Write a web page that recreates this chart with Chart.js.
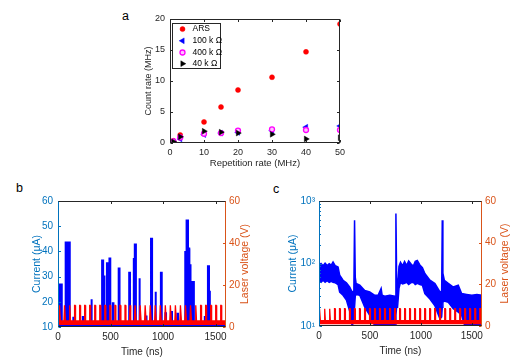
<!DOCTYPE html>
<html><head><meta charset="utf-8">
<script src="https://cdn.jsdelivr.net/npm/chart.js"></script>
<style>
html,body{margin:0;padding:0;background:#fff;width:512px;height:357px;overflow:hidden;position:relative}
canvas{position:absolute}
.lbl{position:absolute;font-family:"Liberation Sans",Arial,sans-serif;color:#000;line-height:1;font-size:12.5px}
</style></head><body>
<div class="lbl" style="left:122px;top:10.4px">a</div>
<div class="lbl" style="left:16px;top:182.1px">b</div>
<div class="lbl" style="left:273px;top:182.7px">c</div>
<canvas id="ca" width="240" height="175" style="left:120px;top:0"></canvas>
<canvas id="cb" width="256" height="180" style="left:0;top:180px"></canvas>
<canvas id="cc" width="256" height="180" style="left:256px;top:180px"></canvas>
<script>
// ---------------- DATA ----------------
// Panel a
const repRate   = [1, 3, 10, 15, 20, 30, 40, 50];
const countARS  = [0.35, 1.3, 3.4, 5.8, 8.55, 10.6, 14.7, 19.2];
const count100k = [0.2, 0.65, 1.35, 1.6, 1.7, 2.0, 2.55, 2.75];
const count400k = [0.25, 0.9, 1.5, 1.6, 2.0, 2.2, 2.1, 2.1];
const count40k  = [0.2, 1.0, 1.9, 1.75, 1.6, 1.4, 0.65, 0.85];
const seriesNamesA = ['ARS', '100 k \u03A9', '400 k \u03A9', '40 k \u03A9'];
const xTicksA = [0, 10, 20, 30, 40, 50];
const yTicksA = [0, 5, 10, 15, 20];

// Panel b : current spikes (start ns, end ns, height uA) over a ~11.8 uA baseline
const spikeStartB  = [16, 73, 146, 236, 315, 420, 430, 466, 490, 522, 578, 678, 722, 732, 772, 838, 886, 926, 980, 1023, 1080, 1137, 1212, 1226, 1240, 1252, 1268, 1398, 1428, 1438];
const spikeEndB    = [36, 112, 153, 242, 323, 430, 442, 474, 498, 528, 586, 686, 730, 742, 780, 843, 896, 933, 988, 1029, 1086, 1143, 1222, 1238, 1250, 1262, 1294, 1403, 1438, 1446];
const spikeHeightB = [26.9, 43.5, 13.7, 14, 21, 36.4, 30, 35.3, 37.2, 19.4, 33.2, 31.5, 37, 42.7, 29.3, 14.2, 45, 24, 31.5, 15.5, 16, 15.3, 39.8, 52.3, 41.2, 34.5, 27.9, 14, 34.1, 24];
const currentBaseB = 11.8;
// Panel b : laser pulses (ns), peak / baseline band (V)
const laserTimesB = [16, 64, 112, 160, 208, 256, 304, 352, 400, 448, 496, 544, 592, 640, 688, 736, 784, 832, 880, 928, 976, 1024, 1072, 1120, 1168, 1216, 1264, 1312, 1360, 1408, 1456, 1504, 1552];
const laserPeakB = 10.3, laserBaseHiB = 2.9, laserBaseLoB = 0.9;

// Panel c : current band (ns, upper uA, lower uA)
const timeC = [0, 20, 40, 60, 80, 100, 120, 138, 160, 187, 203, 236, 269, 302, 325, 342, 349, 356, 364, 400, 449, 498, 548, 580, 610, 620, 646, 695, 748, 755, 762, 771, 785, 800, 820, 840, 860, 880, 900, 925, 945, 965, 990, 1015, 1039, 1089, 1138, 1187, 1204, 1210, 1216, 1230, 1269, 1318, 1367, 1400, 1449, 1500, 1550, 1600];
const currentHiC = [95, 100, 92, 101, 93, 99, 94, 106, 92, 88, 65, 54, 49, 42, 35, 36, 493, 60, 48, 45, 37, 35, 31, 31, 40, 31, 30, 31, 30, 630, 60, 37, 90, 105, 92, 108, 93, 110, 100, 90, 108, 112, 95, 86, 69, 54, 48, 35, 36, 493, 70, 54, 48, 42, 45, 33, 32, 31, 32, 31];
const currentLoC = [52, 50, 54, 50, 53, 50, 52, 50, 49, 46, 35, 31, 26, 17, 10, 12, 20, 30, 32, 31, 20, 14.8, 10, 8, 7, 7, 7, 7, 8, 15, 20, 20, 40, 50, 47, 48, 50, 46, 49, 50, 46, 48, 46, 45, 33, 27, 21, 13, 14, 20, 24, 25, 24, 19, 16.7, 14.8, 8, 7, 7, 7];
const laserTimesC = [7, 56, 105, 155, 204, 253, 302, 351, 400, 450, 499, 548, 597, 646, 696, 745, 794, 843, 892, 941, 991, 1040, 1089, 1138, 1187, 1237, 1286, 1335, 1384, 1433, 1482, 1532, 1581];
const laserPeakC = 8.3, laserBaseHiC = 2.6, laserBaseLoC = 0.9;

const timeTicks = [0, 500, 1000, 1500];
const currentTicksB = [10, 20, 30, 40, 50, 60];
const voltTicks = [0, 20, 40, 60];
const currentTicksC = [10, 100, 1000];
const currentTickLabelsC = ['10\u00B9', '10\u00B2', '10\u00B3'];
const minorTicksC = [20, 30, 40, 50, 60, 70, 80, 90, 200, 300, 400, 500, 600, 700, 800, 900];

// ---------------- HELPERS ----------------
const FONT = '"Liberation Sans", Arial, Helvetica, sans-serif';
const AX = '#262626', BLUE_AX = '#0072BD', ORANGE_AX = '#D95319';
const useTicks = arr => s => { s.ticks = arr.map(v => ({value: v})); };
const noGrid = {display: false, drawTicks: false};

function spikeTrace(starts, ends, heights, base, tMax) {
  const pts = [{x: 0, y: base}];
  starts.forEach((t0, i) => {
    pts.push({x: t0, y: base}, {x: t0, y: heights[i]}, {x: ends[i], y: heights[i]}, {x: ends[i], y: base});
  });
  pts.push({x: tMax, y: base});
  return pts;
}
function pulseTrace(times, base, peak, halfBase, halfTop, tMax) {
  const pts = [{x: 0, y: base}];
  times.forEach(t => {
    pts.push({x: t - halfBase, y: base}, {x: t - halfTop, y: peak}, {x: t + halfTop, y: peak}, {x: t + halfBase, y: base});
  });
  pts.push({x: tMax, y: base});
  return pts;
}
function drawMarker(ctx, style, rot, r, x, y) {
  ctx.beginPath();
  if (style === 'circle') ctx.arc(x, y, r, 0, Math.PI * 2);
  else {
    let rad = rot * Math.PI / 180;
    for (let i = 0; i < 3; i++) {
      const px = x + Math.sin(rad) * r, py = y - Math.cos(rad) * r;
      if (i) ctx.lineTo(px, py); else ctx.moveTo(px, py);
      rad += 2 * Math.PI / 3;
    }
    ctx.closePath();
  }
  ctx.fill(); ctx.stroke();
}

const framePlugin = {
  id: 'frame',
  afterDatasetsDraw(chart, args, o) {
    const {ctx, chartArea: a} = chart;
    const xs = chart.scales.x, yl = chart.scales.y, yr = chart.scales.y2;
    const L = Math.round(a.left) + 0.5, R = Math.round(a.right) - 0.5, T = Math.round(a.top) + 0.5, B = Math.round(a.bottom) - 0.5;
    const left = o.left || AX, right = o.right || AX;
    ctx.save();
    ctx.lineWidth = 1;
    const seg = (x1, y1, x2, y2, c) => { ctx.strokeStyle = c; ctx.beginPath(); ctx.moveTo(x1, y1); ctx.lineTo(x2, y2); ctx.stroke(); };
    const tl = o.tick || 2.5;
    xs.ticks.forEach(t => { const p = Math.round(xs.getPixelForValue(t.value)) + 0.5; seg(p, B, p, B - tl, AX); seg(p, T, p, T + tl, AX); });
    yl.ticks.forEach(t => { const p = Math.round(yl.getPixelForValue(t.value)) + 0.5; seg(L, p, L + tl, p, left); if (!yr) seg(R, p, R - tl, p, right); });
    if (yr) yr.ticks.forEach(t => { const p = Math.round(yr.getPixelForValue(t.value)) + 0.5; seg(R, p, R - tl, p, right); });
    if (o.minor) o.minor.forEach(v => { const p = Math.round(yl.getPixelForValue(v)) + 0.5; seg(L, p, L + tl * 0.6, p, left); });
    seg(L - 0.5, T, R + 0.5, T, AX); seg(L - 0.5, B, R + 0.5, B, AX);
    seg(L, T, L, B, left); seg(R, T, R, B, right);
    if (o.rightTitle) {
      ctx.save();
      ctx.translate(o.rightTitle.x, (a.top + a.bottom) / 2);
      ctx.rotate(-Math.PI / 2);
      ctx.fillStyle = right;
      ctx.font = o.rightTitle.size + 'px ' + FONT;
      ctx.textAlign = 'center'; ctx.textBaseline = 'middle';
      ctx.fillText(o.rightTitle.text, 0, 0);
      ctx.restore();
    }
    if (o.legend) {
      const bx = Math.round(a.left + 1.7) + 0.5, by = Math.round(a.top + 3.7) + 0.5, bw = 48, bh = 45;
      ctx.fillStyle = '#fff'; ctx.fillRect(bx, by, bw, bh);
      ctx.strokeStyle = AX; ctx.strokeRect(bx, by, bw, bh);
      ctx.font = '8.5px ' + FONT; ctx.textBaseline = 'middle'; ctx.textAlign = 'left';
      const rows = [5.6, 17.3, 29, 40.2];
      chart.data.datasets.forEach((ds, i) => {
        const y = by + rows[i];
        ctx.fillStyle = ds.backgroundColor; ctx.strokeStyle = ds.borderColor; ctx.lineWidth = ds.borderWidth;
        drawMarker(ctx, ds.pointStyle, ds.rotation || 0, ds.pointRadius, bx + 10, y);
        ctx.fillStyle = '#000';
        ctx.fillText(ds.label, bx + 20, y);
      });
    }
    ctx.restore();
  }
};

const baseOpts = {
  responsive: false, animation: false, devicePixelRatio: 1, events: [],
};
const tickFont = s => ({family: FONT, size: s});

// ---------------- PANEL a ----------------
const mkPts = ys => repRate.map((x, i) => ({x, y: ys[i]}));
new Chart(document.getElementById('ca'), {
  type: 'scatter',
  data: {datasets: [
    {label: seriesNamesA[0], data: mkPts(countARS), pointStyle: 'circle', pointRadius: 2.5, backgroundColor: '#ff0000', borderColor: '#ff0000', borderWidth: 0.5, order: 3},
    {label: seriesNamesA[1], data: mkPts(count100k), pointStyle: 'triangle', rotation: -90, pointRadius: 3.3, backgroundColor: '#0000ff', borderColor: '#0000ff', borderWidth: 0.5, order: 2},
    {label: seriesNamesA[2], data: mkPts(count400k), pointStyle: 'circle', pointRadius: 2.5, backgroundColor: '#ffc0ff', borderColor: '#ff00ff', borderWidth: 1.3, order: 1},
    {label: seriesNamesA[3], data: mkPts(count40k), pointStyle: 'triangle', rotation: 90, pointRadius: 3.3, backgroundColor: '#000000', borderColor: '#000000', borderWidth: 0.5, order: 0}
  ]},
  options: Object.assign({}, baseOpts, {
    layout: {padding: {left: 0, top: 19, right: 20, bottom: 0}},
    plugins: {legend: {display: false}, tooltip: {enabled: false}, frame: {legend: true, tick: 2.5}},
    scales: {
      x: {type: 'linear', min: 0, max: 50, afterBuildTicks: useTicks(xTicksA),
          afterFit: s => { s.height = 32; s.paddingLeft = 0; s.paddingRight = 0; },
          grid: noGrid, border: {display: false},
          ticks: {color: AX, font: tickFont(9), padding: 4, maxRotation: 0, autoSkip: false, callback: v => String(v)},
          title: {display: true, text: 'Repetition rate (MHz)', color: AX, font: tickFont(9.5), padding: {top: 0, bottom: 5.8}}},
      y: {type: 'linear', min: 0, max: 20, afterBuildTicks: useTicks(yTicksA),
          afterFit: s => { s.width = 50; s.paddingTop = 0; s.paddingBottom = 0; },
          grid: noGrid, border: {display: false},
          ticks: {color: AX, font: tickFont(9), padding: 5, autoSkip: false, callback: v => String(v)},
          title: {display: true, text: 'Count rate (MHz)', color: AX, font: tickFont(9), padding: {top: 23.6, bottom: 0}}}
    }
  }),
  plugins: [framePlugin]
});

// ---------------- PANELS b, c ----------------
function dualChart(id, cfg) {
  const yScale = cfg.log
    ? {type: 'logarithmic', position: 'left', min: 10, max: 1000}
    : {type: 'linear', position: 'left', min: 10, max: 60};
  return new Chart(document.getElementById(id), {
    type: 'line',
    data: {datasets: cfg.datasets},
    options: Object.assign({}, baseOpts, {
      layout: {padding: {left: 0, top: 21, right: 0, bottom: 0}},
      plugins: {legend: {display: false}, tooltip: {enabled: false},
        frame: {left: BLUE_AX, right: ORANGE_AX, tick: 2.5, minor: cfg.minor,
                rightTitle: {text: 'Laser voltage (V)', x: cfg.rightTitleX, size: 10.5}}},
      scales: {
        x: {type: 'linear', min: 0, max: 1600, afterBuildTicks: useTicks(timeTicks),
            afterFit: s => { s.height = cfg.xH; s.paddingLeft = 0; s.paddingRight = 0; },
            grid: noGrid, border: {display: false},
            ticks: {color: AX, font: tickFont(10), padding: 4, maxRotation: 0, autoSkip: false, callback: v => String(v)},
            title: {display: true, text: 'Time (ns)', color: AX, font: tickFont(10), padding: {top: 0, bottom: cfg.xTitlePad}}},
        y: Object.assign(yScale, {
            afterBuildTicks: useTicks(cfg.yTicks),
            afterFit: s => { s.width = cfg.yW; s.paddingTop = 0; s.paddingBottom = 0; },
            grid: noGrid, border: {display: false},
            ticks: {color: BLUE_AX, font: tickFont(10), padding: cfg.yPad, autoSkip: false, callback: cfg.yLabel},
            title: {display: true, text: 'Current (\u03BCA)', color: BLUE_AX, font: tickFont(10.5), padding: {top: 30.4, bottom: 0}}}),
        y2: {type: 'linear', position: 'right', min: 0, max: 60, afterBuildTicks: useTicks(voltTicks),
            afterFit: s => { s.width = 30; s.paddingTop = 0; s.paddingBottom = 0; },
            grid: noGrid, border: {display: false},
            ticks: {color: ORANGE_AX, font: tickFont(10), padding: 3, autoSkip: false, callback: v => String(v)}}
      }
    }),
    plugins: [framePlugin]
  });
}

dualChart('cb', {
  log: false, xH: 33, yW: 58, yPad: 5, xTitlePad: 1.5, rightTitleX: 245,
  yTicks: currentTicksB, yLabel: v => String(v),
  datasets: [
    {label: 'Laser voltage', data: pulseTrace(laserTimesB, laserBaseHiB, laserPeakB, 7, 2, 1600), yAxisID: 'y2',
     borderColor: '#ff0000', backgroundColor: '#ff0000', borderWidth: 1.3, pointRadius: 0, fill: {value: laserBaseLoB}, order: 0},
    {label: 'Current', data: spikeTrace(spikeStartB, spikeEndB, spikeHeightB, currentBaseB, 1600), yAxisID: 'y',
     borderColor: '#0000ff', backgroundColor: '#0000ff', borderWidth: 2, pointRadius: 0, fill: 'start', order: 1}
  ]
});

dualChart('cc', {
  log: true, xH: 34, yW: 63, yPad: 4, xTitlePad: 3, rightTitleX: 249, minor: minorTicksC,
  yTicks: currentTicksC, yLabel: v => currentTickLabelsC[currentTicksC.indexOf(v)] || '',
  datasets: [
    {label: 'Laser voltage', data: pulseTrace(laserTimesC, laserBaseHiC, laserPeakC, 6, 2.5, 1600), yAxisID: 'y2',
     borderColor: '#ff0000', backgroundColor: '#ff0000', borderWidth: 1.3, pointRadius: 0, fill: {value: laserBaseLoC}, order: 0},
    {label: 'Current upper', data: timeC.map((t, i) => ({x: t, y: currentHiC[i]})), yAxisID: 'y',
     borderColor: '#0000ff', backgroundColor: '#0000ff', borderWidth: 1.5, pointRadius: 0, fill: '+1', order: 1},
    {label: 'Current lower', data: timeC.map((t, i) => ({x: t, y: currentLoC[i]})), yAxisID: 'y',
     borderColor: '#0000ff', backgroundColor: '#0000ff', borderWidth: 1.5, pointRadius: 0, fill: false, order: 2}
  ]
});
</script>
</body></html>
